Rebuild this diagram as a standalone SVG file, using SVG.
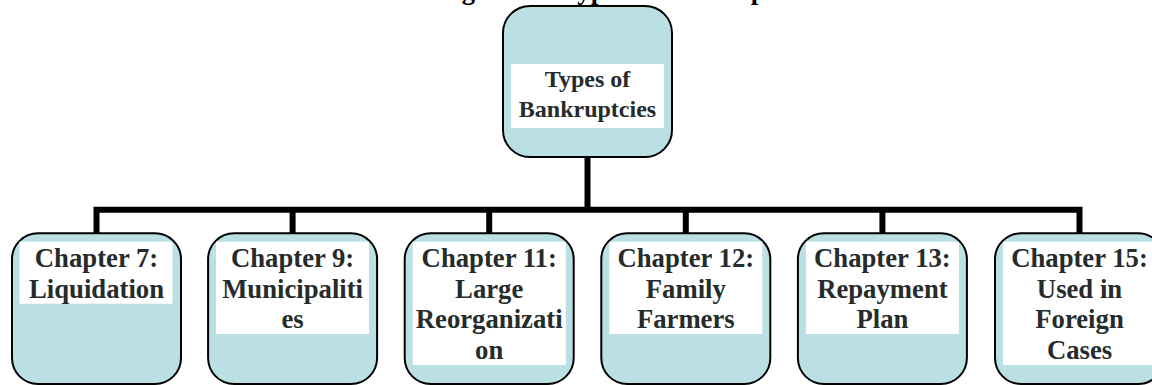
<svg xmlns="http://www.w3.org/2000/svg" width="1152" height="385" viewBox="0 0 1152 385">
<style>
.node{fill:#bae0e3;stroke:#000;stroke-width:2}
.tbox{fill:#fff}
.t{font-family:"Liberation Serif","Times New Roman",serif;font-weight:bold;fill:#262b2b;text-anchor:middle}
.c{font-size:26.7px}
.top{font-size:24px}
.title{font-family:"Liberation Serif","Times New Roman",serif;font-weight:bold;font-size:26.7px;fill:#000}
.conn{fill:none;stroke:#000;stroke-width:6;stroke-linejoin:miter;stroke-linecap:butt}
</style>
<rect width="1152" height="385" fill="#fff"/>
<text class="title" x="438" y="-1.5">Figure 10: Types of Bankruptcies</text>
<g id="connectors">
<path class="conn" d="M96.5,233 V209.7 H1079.5 V233"/>
<path class="conn" d="M587.5,157 V209.7"/>
<path class="conn" d="M292.6,209.7 V233"/>
<path class="conn" d="M489.2,209.7 V233"/>
<path class="conn" d="M685.8,209.7 V233"/>
<path class="conn" d="M882.4,209.7 V233"/>
</g>
<g id="root">
<rect class="node" x="503" y="6" width="169" height="151" rx="27"/>
<rect class="tbox" x="511" y="64" width="153" height="64"/>
<text class="t top" x="587.5" y="86.7">Types of</text>
<text class="t top" x="587.5" y="117.3">Bankruptcies</text>
</g>
<g id="ch7">
<rect class="node" x="12" y="233.3" width="169" height="150.7" rx="26"/>
<rect class="tbox" x="19.5" y="241.7" width="153" height="62"/>
<text class="t c" x="96.5" y="267.3">Chapter 7:</text>
<text class="t c" x="96.5" y="297.8">Liquidation</text>
</g>
<g id="ch9">
<rect class="node" x="208.1" y="233.3" width="169" height="150.7" rx="26"/>
<rect class="tbox" x="216" y="241.7" width="153" height="92.3"/>
<text class="t c" x="292.6" y="267.3">Chapter 9:</text>
<text class="t c" x="292.6" y="297.8">Municipaliti</text>
<text class="t c" x="292.6" y="328.3">es</text>
</g>
<g id="ch11">
<rect class="node" x="404.7" y="233.3" width="169" height="150.7" rx="26"/>
<rect class="tbox" x="412.7" y="241.7" width="153" height="123.3"/>
<text class="t c" x="489.2" y="267.3">Chapter 11:</text>
<text class="t c" x="489.2" y="297.8">Large</text>
<text class="t c" x="489.2" y="328.3">Reorganizati</text>
<text class="t c" x="489.2" y="358.8">on</text>
</g>
<g id="ch12">
<rect class="node" x="601.3" y="233.3" width="169" height="150.7" rx="26"/>
<rect class="tbox" x="609.3" y="241.7" width="153" height="92.3"/>
<text class="t c" x="685.8" y="267.3">Chapter 12:</text>
<text class="t c" x="685.8" y="297.8">Family</text>
<text class="t c" x="685.8" y="328.3">Farmers</text>
</g>
<g id="ch13">
<rect class="node" x="797.9" y="233.3" width="169" height="150.7" rx="26"/>
<rect class="tbox" x="805.9" y="241.7" width="153" height="92.3"/>
<text class="t c" x="882.4" y="267.3">Chapter 13:</text>
<text class="t c" x="882.4" y="297.8">Repayment</text>
<text class="t c" x="882.4" y="328.3">Plan</text>
</g>
<g id="ch15">
<rect class="node" x="995" y="233.3" width="169" height="150.7" rx="26"/>
<rect class="tbox" x="1003" y="241.7" width="153" height="123.3"/>
<text class="t c" x="1079.5" y="267.3">Chapter 15:</text>
<text class="t c" x="1079.5" y="297.8">Used in</text>
<text class="t c" x="1079.5" y="328.3">Foreign</text>
<text class="t c" x="1079.5" y="358.8">Cases</text>
</g>
</svg>
